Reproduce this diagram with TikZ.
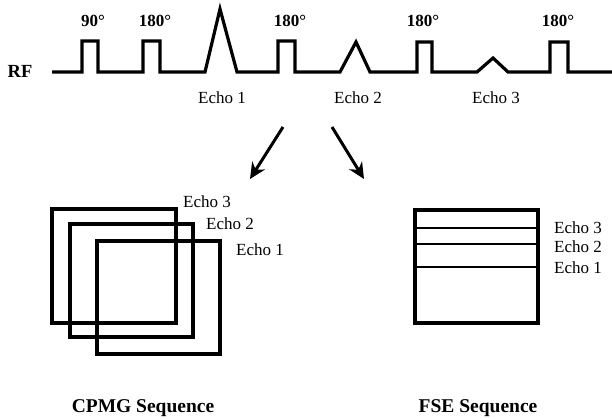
\documentclass[tikz,border=0pt]{standalone}
\usepackage{fontspec}
\setmainfont{Liberation Serif}
\usetikzlibrary{arrows.meta}
\begin{document}
\begin{tikzpicture}[x=1pt,y=-1pt,
  wave/.style={line width=3.2pt,line join=miter},
  frame/.style={draw,line width=3.2pt},
  sep/.style={line width=2.2pt},
  pulselbl/.style={font=\fontsize{17}{17}\selectfont\bfseries,inner sep=0pt},
  echolbl/.style={font=\fontsize{17}{17}\selectfont,inner sep=0pt},
  title/.style={font=\fontsize{19.5}{20}\selectfont\bfseries,inner sep=0pt},
  bigarrow/.style={line width=3pt,-{Stealth[length=16pt,width=15pt]}}]
\useasboundingbox (0,0) rectangle (612,419);
% RF waveform
\node[font=\fontsize{18.5}{18}\selectfont\bfseries,inner sep=0pt] (rf) at (20,71) {RF};
\draw[wave] (52,72) -- (82,72) -- (82,41) -- (98,41) -- (98,72)
  -- (143,72) -- (143,41) -- (160,41) -- (160,72)
  -- (205,72) -- (220,9) -- (237,72)
  -- (278,72) -- (278,41) -- (295,41) -- (295,72)
  -- (340,72) -- (356,42) -- (370,72)
  -- (417,72) -- (417,42) -- (432,42) -- (432,72)
  -- (477,72) -- (493,58) -- (508,72)
  -- (550,72) -- (550,42) -- (568,42) -- (568,72) -- (612,72);
\node[pulselbl] (p90) at (93,21) {90°};
\node[pulselbl] (p180a) at (155,21) {180°};
\node[pulselbl] (p180b) at (290,21) {180°};
\node[pulselbl] (p180c) at (423,21) {180°};
\node[pulselbl] (p180d) at (558,21) {180°};
\node[echolbl] (e1) at (222,98) {Echo 1};
\node[echolbl] (e2) at (358,98) {Echo 2};
\node[echolbl] (e3) at (496,98) {Echo 3};
% arrows
\coordinate (aL0) at (283,127);
\coordinate (aL1) at (250,179);
\coordinate (aR0) at (332,127);
\coordinate (aR1) at (364,179);
\draw[bigarrow] (aL0) -- (aL1);
\draw[bigarrow] (aR0) -- (aR1);
% CPMG
\draw[frame] (52,209) rectangle (176,323);
\draw[frame] (70,224) rectangle (193,337);
\draw[frame] (97,241) rectangle (220,354);
\node[echolbl] (c3) at (207,202) {Echo 3};
\node[echolbl] (c2) at (230,224) {Echo 2};
\node[echolbl] (c1) at (260,250) {Echo 1};
\node[title] (cpmg) at (143,408) {CPMG Sequence};
% FSE
\draw[frame] (415,210) rectangle (538,323);
\draw[sep] (415,228) -- (538,228);
\draw[sep] (415,244) -- (538,244);
\draw[sep] (415,267) -- (538,267);
\node[echolbl,anchor=west] (f3) at (554,228) {Echo 3};
\node[echolbl,anchor=west] (f2) at (554,247) {Echo 2};
\node[echolbl,anchor=west] (f1) at (554,268) {Echo 1};
\node[title] (fse) at (478,408) {FSE Sequence};
\end{tikzpicture}
\end{document}
